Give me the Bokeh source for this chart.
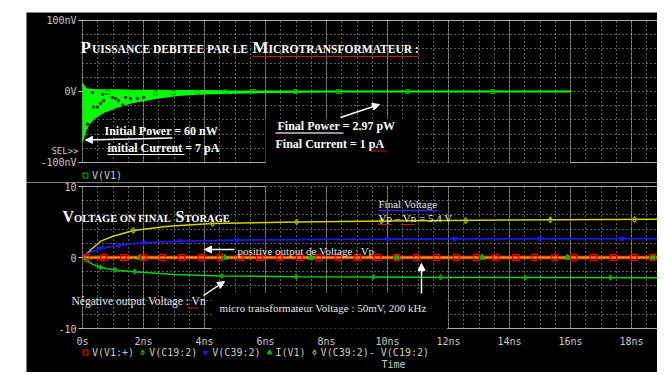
from bokeh.plotting import figure
from bokeh.layouts import column, row
from bokeh.models import (Range1d, SingleIntervalTicker, FixedTicker, Grid, Label,
                          Arrow, NormalHead, Legend, LegendItem, BoxAnnotation, Spacer)
from bokeh.embed import file_html
from bokeh.resources import INLINE

# ---------------- data ----------------
time_ticks = [0, 2, 4, 6, 8, 10, 12, 14, 16, 18]
time_tick_labels = ["0s", "2ns", "4ns", "6ns", "8ns", "10ns", "12ns", "14ns", "16ns", "18ns"]
top_ticks = [-100, 0, 100]
top_tick_labels = ["-100nV", "0V", "100nV"]
bot_ticks = [-10, 0, 10]
bot_tick_labels = ["-10", "0", "10"]

# V(V1) (nV): envelope of the fast trace
v1_t = [0.0, 0.1, 0.2, 0.37, 0.7, 1.14, 1.67, 2.45, 3.2, 4.0, 5.0, 6.0, 8.0, 16.0]
v1_upper = [11, 4, 3, 2.5, 2, 2, 1.5, 1.5, 1, 1, 0.5, 0.5, 0.5, 0.5]
v1_lower = [-70, -55, -46, -38, -29, -22, -15, -9, -5, -3, -2, -1, -0.5, -0.5]
v1_dots_t = [0.16, 0.33, 0.36, 0.49, 0.59, 0.66, 0.69, 0.98, 1.08, 1.18, 1.31, 1.41, 1.57, 1.8, 2.0]
v1_dots_v = [-46, -1.5, -22, -22, -17, -4, -13, -8.5, -10, -13, -19, -8.5, -10, -10, -8.5]
v1_mark_t = [0.82, 2.39, 2.98, 3.77, 4.69, 5.6, 6.98, 8.39, 10.66, 13.44]
v1_mark_v = [-1, -2, -1.5, -1, -0.5, 0, 0, 0, 0, 0]

# V(C39:2)-V(C19:2)  (V)
vdiff_t = [0, 0.1, 0.3, 0.6, 1.0, 1.67, 2.8, 4.26, 7.0, 10.0, 13.0, 18.9]
vdiff_v = [0, 0.3, 1.2, 2.3, 3.0, 3.8, 4.4, 4.8, 5.0, 5.15, 5.25, 5.4]
vdiff_mark_t = [1.67, 4.26, 7.02, 9.8, 12.56, 15.34, 18.1]
vdiff_mark_v = [3.8, 4.8, 5.0, 5.15, 5.2, 5.3, 5.35]

# V(C39:2)
vc39_t = [0, 0.1, 0.3, 0.6, 1.2, 2.0, 3.2, 5.0, 8.0, 12.0, 18.9]
vc39_v = [0, 0.3, 0.8, 1.3, 1.7, 2.1, 2.3, 2.45, 2.55, 2.62, 2.65]
vc39_mark_t = [0.6, 1.2, 2.0, 3.2, 5.05, 10.0, 12.2, 15.0, 17.7]
vc39_mark_v = [1.3, 1.7, 2.1, 2.3, 2.45, 2.6, 2.62, 2.64, 2.65]

# V(C19:2)
vc19_t = [0, 0.1, 0.3, 0.6, 1.1, 1.7, 3.0, 4.6, 7.0, 9.5, 12.0, 18.9]
vc19_v = [0, -0.3, -0.9, -1.4, -1.8, -2.0, -2.4, -2.6, -2.7, -2.75, -2.8, -2.85]
vc19_mark_t = [0.13, 0.59, 1.08, 1.71, 4.56, 7.0, 9.54, 11.74, 14.52, 17.3]
vc19_mark_v = [-0.3, -1.4, -1.75, -2.0, -2.6, -2.7, -2.75, -2.8, -2.82, -2.84]

# V(V1:+) : 50 mV, 200 kHz -> flat at this scale
vin_t = [0, 18.9]
vin_v = [0, 0]
vin_mark_t = [0.13, 0.69, 1.34, 2.0, 2.62, 3.25, 3.9, 4.52, 5.18, 5.8, 6.46, 7.11, 7.74, 8.39,
              9.02, 9.67, 10.3, 10.95, 11.61, 12.26, 12.92, 13.54, 14.2, 14.82, 15.48, 16.1,
              16.75, 17.41, 18.07, 18.69]
vin_mark_v = [0] * len(vin_mark_t)

# I(V1)
iv1_t = [0, 18.9]
iv1_v = [0, 0]
iv1_mark_t = [1.87, 4.66, 7.48, 10.3, 13.1, 15.9, 18.7]
iv1_mark_v = [0] * len(iv1_mark_t)

# ---------------- layout helpers (page pixel -> data) ----------------
FW = 631
AX_FONT = "DejaVu Sans Mono"
AX_COL = "#c8c8c8"
SERIF = "Liberation Serif"
GRID_COL = "#d8d8d8"
BOX_COL = "#a8a8a8"


def tx(px):
    return (px - 82) / 30.5


def ty_top(py):
    return 100 - (py - 20) / 0.71


def ty_bot(py):
    return 10 - (py - 186) / 7.1


X0, XEND = tx(26), tx(657)


def make_fig(h, yr, yb):
    p = figure(width=FW, height=h, x_range=Range1d(X0, XEND), y_range=Range1d(*yr),
               output_backend="svg", toolbar_location=None, min_border=0,
               background_fill_color="black", border_fill_color="black",
               outline_line_color=None)
    p.yaxis.fixed_location = 0
    for ax in (p.xaxis, p.yaxis):
        ax.axis_line_color = None
        ax.minor_tick_line_color = None
        ax.major_label_text_font = AX_FONT
        ax.major_label_text_font_size = "10px"
        ax.major_label_text_color = AX_COL
    p.yaxis.major_tick_line_color = AX_COL
    p.yaxis.major_tick_out = 4
    p.yaxis.major_tick_in = 0
    p.yaxis.major_label_standoff = 2
    p.xaxis.major_tick_line_color = None
    p.xaxis.major_label_standoff = 1
    for g in (p.xgrid, p.ygrid):
        g.grid_line_color = GRID_COL
        g.grid_line_dash = "1 3"
        g.grid_line_alpha = 0.85
    p.xgrid.ticker = SingleIntervalTicker(interval=0.5)
    p.xgrid.bounds = (0, XEND)
    p.xgrid.cross_bounds = yb
    p.ygrid.bounds = yb
    p.ygrid.cross_bounds = (0, XEND)
    p.add_layout(Grid(dimension=0, ticker=SingleIntervalTicker(interval=2), bounds=(0, XEND),
                      cross_bounds=yb, grid_line_color="#b0b0b0", grid_line_alpha=0.5))
    return p


def label(p, ty, px, py, text, size, color="white", style="bold", font=SERIF, align="left",
          middle=False):
    # py is the text baseline (page px) unless middle=True
    yc = py if middle else py - 0.3 * size
    p.add_layout(Label(x=tx(px), y=ty(yc), text=text, text_font=font,
                       text_font_size=f"{size}px", text_font_style=style, text_color=color,
                       text_align=align, text_baseline="middle"))


def arrow(p, ty, x0, y0, x1, y1, head=True, color="white", width=1.5):
    end = NormalHead(size=7, fill_color=color, line_color=color) if head else None
    p.add_layout(Arrow(end=end, x_start=tx(x0), y_start=ty(y0), x_end=tx(x1), y_end=ty(y1),
                       line_color=color, line_width=width))


def legend(items, loc):
    return Legend(items=items, orientation="horizontal", location=loc, margin=0, padding=0,
                  spacing=2, glyph_width=12, glyph_height=12, label_height=12,
                  label_standoff=1, label_text_font=AX_FONT, label_text_font_size="10px",
                  label_text_color=AX_COL, background_fill_alpha=0, border_line_alpha=0)


# ---------------- top plot (page y 12..182) ----------------
top = make_fig(170, (ty_top(182), ty_top(12)), (-100, 100))
top.xaxis.visible = False
top.yaxis.ticker = FixedTicker(ticks=top_ticks)
top.yaxis.major_label_overrides = dict(zip(top_ticks, top_tick_labels))
top.ygrid.ticker = SingleIntervalTicker(interval=20)

GREEN = "#00ff00"
top.varea(x=v1_t, y1=v1_lower, y2=v1_upper, fill_color=GREEN)
top.line(v1_t, v1_upper, line_color=GREEN, line_width=1.5)
top.line(v1_t, v1_lower, line_color=GREEN, line_width=1.5)
top.scatter(v1_dots_t, v1_dots_v, marker="circle", size=2.5, color="#003000")
v1_marks = top.scatter(v1_mark_t, v1_mark_v, marker="square", size=4, fill_color=None,
                       line_color="#00a000", line_width=1.2)

# black pasted box behind "Final Power"
top.add_layout(BoxAnnotation(left=tx(265), right=tx(417), top=ty_top(118), bottom=ty_top(180),
                             fill_color="black", fill_alpha=1, line_color=None))
# plot box lines
arrow(top, ty_top, 82, 20, 660, 20, head=False, color=BOX_COL, width=1.2)
arrow(top, ty_top, 82, 162, 265, 162, head=False, color=BOX_COL, width=1.2)
arrow(top, ty_top, 570, 162, 660, 162, head=False, color=BOX_COL, width=1.2)

label(top, ty_top, 80, 52, "P", 17)
label(top, ty_top, 91.5, 52, "UISSANCE DEBITEE PAR LE", 11.5)
label(top, ty_top, 252, 52, "M", 17)
label(top, ty_top, 268, 52, "ICROTRANSFORMATEUR :", 11.5)
arrow(top, ty_top, 252, 56, 418, 56, head=False, color="#c01818", width=1)

label(top, ty_top, 104, 134, "Initial Power = 60 nW", 12)
arrow(top, ty_top, 172, 137.5, 85, 139.5)
label(top, ty_top, 107, 151, "initial  Current = 7 pA", 12)
arrow(top, ty_top, 107, 154, 184, 154, head=False, width=1.2)

label(top, ty_top, 277, 129, "Final Power = 2.97 pW", 12)
arrow(top, ty_top, 275, 132.5, 343, 132.5, head=False, color="#c8c8c8", width=1.5)
label(top, ty_top, 275, 147, "Final  Current = 1 pA", 12)
arrow(top, ty_top, 370, 150.5, 386, 150.5, head=False, color="#c01818", width=1)
arrow(top, ty_top, 340, 117, 379, 104)

label(top, ty_top, 78, 150, "SEL>>", 9, color=AX_COL, style="normal", font=AX_FONT,
      align="right", middle=True)

top.add_layout(legend([LegendItem(label="V(V1)", renderers=[v1_marks])], (53, 1)))

# ---------------- bottom plot (page y 182..372) ----------------
bot = make_fig(190, (ty_bot(372), ty_bot(182)), (-10, 10))
bot.yaxis.ticker = FixedTicker(ticks=bot_ticks)
bot.yaxis.major_label_overrides = dict(zip(bot_ticks, bot_tick_labels))
bot.ygrid.ticker = SingleIntervalTicker(interval=2)
bot.xaxis.fixed_location = -10
bot.xaxis.ticker = FixedTicker(ticks=time_ticks)
bot.xaxis.major_label_overrides = dict(zip(time_ticks, time_tick_labels))

YEL = "#d2d200"
BLUE = "#1a1ae6"
GRN = "#00d400"
bot.line(vdiff_t, vdiff_v, line_color=YEL, line_width=1.5)
bot.line(vc39_t, vc39_v, line_color=BLUE, line_width=1.8)
bot.line(vc19_t, vc19_v, line_color=GRN, line_width=1.5)
bot.line(iv1_t, iv1_v, line_color=GRN, line_width=1.5)
bot.line(vin_t, vin_v, line_color="#ff4a00", line_width=3.5)
bot.line(vin_t, vin_v, line_color="#ffe000", line_width=1.2, line_dash="2 2")

m_diff = bot.scatter(vdiff_mark_t, vdiff_mark_v, marker="diamond", size=6, fill_color=None,
                     line_color="#a8a800", line_width=1.2)
m_c39 = bot.scatter(vc39_mark_t, vc39_mark_v, marker="inverted_triangle", size=5,
                    fill_color=BLUE, line_color=BLUE)
m_c19 = bot.scatter(vc19_mark_t, vc19_mark_v, marker="diamond", size=5, fill_color=None,
                    line_color="#00b000", line_width=1.2)
m_iv1 = bot.scatter(iv1_mark_t, iv1_mark_v, marker="triangle", size=6, fill_color="#00c000",
                    line_color="#00c000")
m_vin = bot.scatter(vin_mark_t, vin_mark_v, marker="square", size=6, fill_color=None,
                    line_color="#e00000", line_width=1.3)

bot.add_layout(BoxAnnotation(left=tx(211), right=tx(447), top=ty_bot(292), bottom=-10,
                             fill_color="black", fill_alpha=1, line_color=None))
arrow(bot, ty_bot, 82, 186, 265, 186, head=False, color=BOX_COL, width=1.2)
arrow(bot, ty_bot, 417, 186, 660, 186, head=False, color=BOX_COL, width=1.2)
arrow(bot, ty_bot, 82, 328, 211, 328, head=False, color=BOX_COL, width=1.2)
arrow(bot, ty_bot, 447, 328, 660, 328, head=False, color=BOX_COL, width=1.2)

label(bot, ty_bot, 62, 221, "V", 16)
label(bot, ty_bot, 73.5, 221, "OLTAGE ON FINAL", 10.5)
label(bot, ty_bot, 175, 221, "S", 16)
label(bot, ty_bot, 184, 221, "TORAGE", 10.5)

TXT = "#e6e6e6"
label(bot, ty_bot, 378, 207, "Final  Voltage", 11, color=TXT, style="normal")
arrow(bot, ty_bot, 378, 210, 437, 210, head=False, color="#2a2aff", width=1.5)
label(bot, ty_bot, 378, 221, "Vp – Vn = 5.4 V", 11, color=TXT, style="normal")
arrow(bot, ty_bot, 378, 224, 391, 224, head=False, color="#c01818", width=1)
arrow(bot, ty_bot, 400, 224, 414, 224, head=False, color="#c01818", width=1)

label(bot, ty_bot, 237, 254, "positive output de Voltage  : Vp", 11, color=TXT, style="normal")
arrow(bot, ty_bot, 234, 249, 204, 249)

label(bot, ty_bot, 71, 304, "Négative output Voltage  : Vn", 11.5, color=TXT, style="normal")
arrow(bot, ty_bot, 187, 307.5, 198, 307.5, head=False, color="#c01818", width=1)
arrow(bot, ty_bot, 203, 295, 224, 281)

label(bot, ty_bot, 219, 311, "micro transformateur Voltage  : 50mV, 200 kHz", 11, color=TXT,
      style="normal")
arrow(bot, ty_bot, 421, 293, 421, 263)

bot.add_layout(legend([LegendItem(label="V(V1:+)", renderers=[m_vin]),
                       LegendItem(label="V(C19:2)", renderers=[m_c19]),
                       LegendItem(label="V(C39:2)", renderers=[m_c39]),
                       LegendItem(label="I(V1)", renderers=[m_iv1]),
                       LegendItem(label="V(C39:2)- V(C19:2)", renderers=[m_diff])],
                      (53, 14)))
label(bot, ty_bot, 381, 364, "Time", 10, color=AX_COL, style="normal", font=AX_FONT, middle=True)

layout = column(Spacer(height=12),
                row(Spacer(width=26), column(top, bot)))

open("out.html", "w").write(file_html(layout, INLINE))
